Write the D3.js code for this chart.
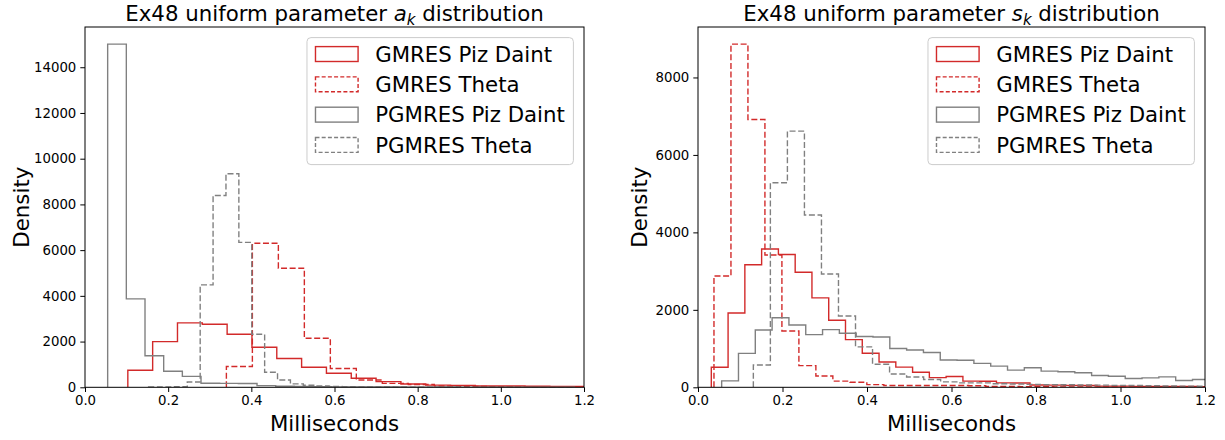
<!DOCTYPE html>
<html lang="en">
<head>
<meta charset="UTF-8">
<title>Ex48 uniform parameter distributions</title>
<script src="https://cdn.jsdelivr.net/npm/d3@7/dist/d3.min.js"></script>
<style>
    html, body {
        margin: 0;
        padding: 0;
        background: #fff;
    }
    svg {
        display: block;
        font-family: "DejaVu Sans", sans-serif;
    }
    .tick text {
        font-size: 13.3px;
        fill: #000;
    }
    .tick line {
        stroke: #000;
    }
</style>
</head>
<body>
<svg id="chart" width="1225" height="440"></svg>
<script>
    var xTicks = [0, 0.2, 0.4, 0.6, 0.8, 1.0, 1.2];
    var akYTicks = [0, 2000, 4000, 6000, 8000, 10000, 12000, 14000];
    var skYTicks = [0, 2000, 4000, 6000, 8000];
    var seriesNames = ["GMRES Piz Daint", "GMRES Theta", "PGMRES Piz Daint", "PGMRES Theta"];

    /* a_k: first bin edge and bin width of each series (ms) */
    var akStarts = [0.103, 0.34, 0.0545, 0.153];
    var akWidths = [0.0597, 0.0625, 0.0449, 0.031];
    /* a_k densities per bin */
    var akGmresDaint = [745, 2000, 2818, 2760, 2321, 1752, 1260, 876, 613, 394, 248, 146, 95, 85, 60, 55, 45, 40, 35];
    var akGmresTheta = [910, 6300, 5210, 2145, 820, 320, 170, 120, 60, 40, 30, 20, 15, 10];
    var akPgmresDaint = [15010, 3870, 1380, 700, 480, 180, 170, 165, 75, 45, 35, 25, 20, 15, 12, 10, 8, 6, 5, 4, 3, 3, 2, 2, 2];
    var akPgmresTheta = [15, 20, 30, 230, 4480, 8390, 9340, 6340, 2320, 660, 320, 150, 90, 60, 40, 30, 20, 15, 10, 8, 6, 5, 4, 3];

    /* s_k: first bin edge and bin width of each series (ms) */
    var skStarts = [0.0315, 0.0378, 0.056, 0.131];
    var skWidths = [0.0397, 0.0402, 0.0398, 0.0403];
    /* s_k densities per bin */
    var skGmresDaint = [516, 1920, 3165, 3570, 3430, 2970, 2310, 1730, 1230, 880, 655, 520, 390, 250, 280, 160, 155, 115, 110, 60, 55, 50, 45, 30, 30, 25, 25, 20, 20, 15];
    var skGmresTheta = [2873, 8860, 6916, 3415, 1455, 560, 290, 160, 130, 70, 45, 45, 45, 45, 45, 40, 20, 20, 15, 15, 12, 10, 10, 8, 8, 6, 5, 5, 4];
    var skPgmresDaint = [165, 875, 1480, 1795, 1610, 1360, 1490, 1395, 1310, 1300, 1000, 965, 900, 705, 700, 617, 548, 443, 504, 417, 400, 374, 304, 287, 226, 243, 270, 174, 200];
    var skPgmresTheta = [575, 5280, 6615, 4450, 2925, 1842, 1045, 595, 345, 265, 200, 139, 113, 113, 90, 87, 75, 70, 65, 60, 55, 50, 45, 40, 35, 30, 28];

    var colors = ["#d22a2a", "#d22a2a", "#808080", "#808080"];
    var dashes = [null, "6,2.6", null, "6,2.6"];
    var bigFont = 21.3;

    var svg = d3.select("#chart");

    drawPanel({
        id: "ak", left: 85, right: 584, top: 27, bottom: 387.3,
        symbol: "a", yTicks: akYTicks, yLabelX: 21,
        starts: akStarts, widths: akWidths,
        series: [akGmresDaint, akGmresTheta, akPgmresDaint, akPgmresTheta]
    });
    drawPanel({
        id: "sk", left: 698, right: 1205, top: 27, bottom: 387.3,
        symbol: "s", yTicks: skYTicks, yLabelX: 639,
        starts: skStarts, widths: skWidths,
        series: [skGmresDaint, skGmresTheta, skPgmresDaint, skPgmresTheta]
    });

    function drawPanel(p) {
        /* ylim like matplotlib autoscale: 5% margin over the tallest bin */
        var maxY = d3.max(p.series, function (s) { return d3.max(s); }) * 1.05;
        var x = d3.scaleLinear().domain([0, 1.2]).range([p.left, p.right]);
        var y = d3.scaleLinear().domain([0, maxY]).range([p.bottom, p.top]);

        var g = svg.append("g").attr("id", p.id);

        g.append("clipPath").attr("id", p.id + "Clip")
            .append("rect")
            .attr("x", p.left).attr("y", p.top)
            .attr("width", p.right - p.left).attr("height", p.bottom - p.top);

        /* step outline of each histogram */
        var line = d3.line()
            .x(function (d) { return x(d[0]); })
            .y(function (d) { return y(d[1]); });

        var plot = g.append("g").attr("clip-path", "url(#" + p.id + "Clip)");
        p.series.forEach(function (vals, i) {
            var pts = [];
            var w = p.widths[i];
            var e0 = p.starts[i];
            pts.push([e0, 0]);
            vals.forEach(function (v, k) {
                pts.push([e0 + k * w, v]);
                pts.push([e0 + (k + 1) * w, v]);
            });
            pts.push([e0 + vals.length * w, 0]);
            plot.append("path")
                .datum(pts)
                .attr("d", line)
                .attr("fill", "none")
                .attr("stroke", colors[i])
                .attr("stroke-width", 1.4)
                .attr("stroke-dasharray", dashes[i])
                .attr("stroke-linejoin", "miter");
        });

        /* axes */
        var xAxis = g.append("g")
            .attr("transform", "translate(0," + p.bottom + ")")
            .call(d3.axisBottom(x).tickValues(xTicks).tickFormat(d3.format(".1f"))
                .tickSize(4.7).tickPadding(4).tickSizeOuter(0));
        xAxis.select(".domain").remove();

        var yAxis = g.append("g")
            .attr("transform", "translate(" + p.left + ",0)")
            .call(d3.axisLeft(y).tickValues(p.yTicks).tickFormat(d3.format("d"))
                .tickSize(4.7).tickPadding(4).tickSizeOuter(0));
        yAxis.select(".domain").remove();
        svg.selectAll(".tick text").style("font-family", "DejaVu Sans");

        g.append("rect")
            .attr("x", p.left).attr("y", p.top)
            .attr("width", p.right - p.left).attr("height", p.bottom - p.top)
            .attr("fill", "none").attr("stroke", "#000").attr("stroke-width", 1);

        /* labels */
        var title = g.append("text")
            .attr("x", (p.left + p.right) / 2).attr("y", 21)
            .attr("text-anchor", "middle")
            .style("font-size", bigFont + "px");
        title.append("tspan").text("Ex48 uniform parameter ");
        title.append("tspan").style("font-style", "italic").text(p.symbol);
        title.append("tspan").style("font-style", "italic").style("font-size", "15px")
            .attr("dy", 4).text("k");
        title.append("tspan").attr("dy", -4).text(" distribution");

        g.append("text")
            .attr("x", (p.left + p.right) / 2).attr("y", 431)
            .attr("text-anchor", "middle")
            .style("font-size", bigFont + "px")
            .text("Milliseconds");

        g.append("text")
            .attr("transform", "translate(" + p.yLabelX + "," + (p.top + p.bottom) / 2 + ") rotate(-90)")
            .attr("text-anchor", "middle")
            .attr("dominant-baseline", "central")
            .style("font-size", bigFont + "px")
            .text("Density");

        /* legend, upper right */
        var lg = g.append("g");
        var frame = lg.append("rect");
        var labels = [];
        seriesNames.forEach(function (name, i) {
            var row = lg.append("g").attr("transform", "translate(0," + (i * 30.3) + ")");
            row.append("rect")
                .attr("x", 8.5).attr("y", 9)
                .attr("width", 42.6).attr("height", 14.9)
                .attr("fill", "none")
                .attr("stroke", colors[i])
                .attr("stroke-width", 1.4)
                .attr("stroke-dasharray", dashes[i] ? "4,2.2" : null);
            labels.push(row.append("text")
                .attr("x", 68.2).attr("y", 16.5)
                .attr("dominant-baseline", "central")
                .style("font-size", bigFont + "px")
                .text(name));
        });
        var textW = d3.max(labels, function (t) { return t.node().getComputedTextLength(); });
        var boxW = 68.2 + textW + 8.5;
        var boxH = 127;
        frame.attr("width", boxW).attr("height", boxH)
            .attr("rx", 4).attr("ry", 4)
            .attr("fill", "#fff").attr("fill-opacity", 0.8)
            .attr("stroke", "#cccccc").attr("stroke-width", 1);
        lg.attr("transform", "translate(" + (p.right - 10.6 - boxW) + "," + (p.top + 10.6) + ")");
    }
</script>
</body>
</html>
